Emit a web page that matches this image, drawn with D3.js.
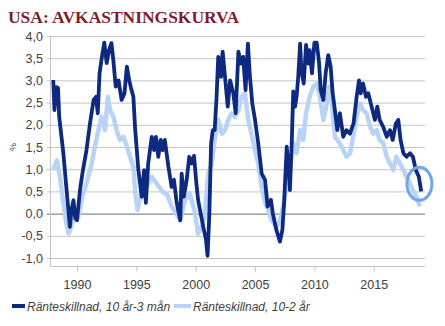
<!DOCTYPE html>
<html><head><meta charset="utf-8">
<script src="https://cdn.jsdelivr.net/npm/d3@7"></script>
<style>body{margin:0;background:#fff;}svg{display:block;}</style>
</head><body>
<svg id="c" width="445" height="326"></svg>
<script>
const title = "USA: AVKASTNINGSKURVA";
const seriesNames = ["Ränteskillnad, 10 år-3 mån", "Ränteskillnad, 10-2 år"];
const yTicks = [4.0,3.5,3.0,2.5,2.0,1.5,1.0,0.5,0.0,-0.5,-1.0];
const xTicks = [1990,1995,2000,2005,2010,2015];

const darkYears = [1988.0,1988.1,1988.25,1988.4,1988.5,1988.85,1989.1,1989.4,1989.55,1989.7,1989.85,1990.0,1990.25,1990.5,1990.8,1991.1,1991.4,1991.6,1991.75,1991.9,1992.1,1992.3,1992.5,1992.7,1992.9,1993.06,1993.26,1993.5,1993.76,1994.0,1994.2,1994.4,1994.55,1994.75,1994.9,1995.17,1995.45,1995.65,1995.8,1996.0,1996.3,1996.5,1996.65,1996.85,1997.05,1997.22,1997.4,1997.7,1997.97,1998.17,1998.4,1998.7,1998.82,1999.0,1999.24,1999.46,1999.66,1999.86,2000.03,2000.2,2000.42,2000.64,2000.87,2001.0,2001.15,2001.3,2001.44,2001.6,2001.76,2001.9,2002.13,2002.27,2002.47,2002.7,2002.9,2003.17,2003.37,2003.6,2003.8,2004.0,2004.2,2004.4,2004.57,2004.77,2005.0,2005.27,2005.56,2005.84,2006.06,2006.34,2006.5,2006.8,2007.1,2007.3,2007.45,2007.67,2007.86,2007.94,2008.1,2008.22,2008.37,2008.5,2008.64,2008.8,2008.9,2009.1,2009.3,2009.5,2009.6,2009.8,2010.0,2010.2,2010.4,2010.53,2010.76,2010.95,2011.17,2011.37,2011.54,2011.73,2011.93,2012.15,2012.43,2012.7,2013.0,2013.3,2013.56,2013.76,2013.9,2014.1,2014.35,2014.54,2014.82,2015.1,2015.3,2015.5,2015.8,2016.1,2016.37,2016.6,2016.87,2017.07,2017.26,2017.5,2017.77,2018.05,2018.3,2018.55,2018.8,2019.0];
const darkValues = [3.01,2.33,2.85,2.83,2.18,1.36,0.6,-0.3,0.1,0.3,-0.1,-0.15,0.53,0.98,1.43,2.04,2.56,2.63,2.26,3.16,3.53,3.85,3.39,3.68,3.84,3.46,2.86,3.0,2.56,2.71,3.31,3.0,2.83,2.63,1.9,0.98,0.38,0.98,0.24,1.13,1.73,1.43,1.73,1.28,1.66,1.43,1.66,1.06,0.6,0.76,0.24,-0.15,0.9,0.38,0.76,1.28,1.13,1.3,0.76,0.31,0.0,-0.3,-0.6,-0.95,0.0,1.58,1.88,1.88,2.63,3.53,3.08,3.65,3.08,2.41,3.0,2.71,2.26,3.65,3.38,3.53,2.78,3.83,3.08,2.48,2.11,1.58,0.9,0.76,0.16,0.31,0.0,-0.37,-0.63,-0.37,0.24,1.51,0.9,0.53,1.66,2.75,2.41,2.63,3.08,3.83,3.23,2.93,3.8,3.38,3.68,3.16,3.85,3.85,3.38,2.78,2.56,3.16,3.57,3.31,2.71,2.33,1.88,2.26,1.73,1.88,1.8,2.03,2.63,3.0,2.71,2.93,2.63,2.71,2.41,2.11,2.41,2.11,1.95,1.73,1.88,1.66,2.03,2.11,1.66,1.36,1.28,1.36,1.28,0.98,0.83,0.5];

const lightYears = [1988.0,1988.3,1988.56,1988.85,1989.1,1989.3,1989.7,1990.1,1990.45,1990.8,1991.24,1991.5,1991.8,1992.08,1992.36,1992.6,1992.8,1993.06,1993.34,1993.6,1993.9,1994.2,1994.47,1994.75,1994.95,1995.1,1995.4,1995.73,1996.3,1996.7,1997.1,1997.4,1997.56,1997.97,1998.7,1999.1,1999.5,1999.9,2000.2,2000.5,2000.76,2001.05,2001.35,2001.6,2001.9,2002.2,2002.47,2002.75,2003.0,2003.3,2003.6,2003.87,2004.15,2004.43,2004.7,2005.0,2005.27,2005.56,2005.84,2006.1,2006.4,2006.8,2007.1,2007.37,2007.67,2007.94,2008.2,2008.5,2008.8,2009.06,2009.3,2009.6,2009.9,2010.2,2010.47,2010.76,2011.0,2011.26,2011.45,2011.73,2012.15,2012.43,2012.7,2013.0,2013.27,2013.56,2013.84,2014.1,2014.4,2014.7,2014.96,2015.25,2015.5,2015.8,2016.1,2016.37,2016.65,2016.9,2017.2,2017.5,2017.77,2018.05,2018.3,2018.6,2018.9];
const lightValues = [0.98,1.2,0.83,0.24,-0.22,-0.45,-0.15,-0.08,0.38,0.68,1.13,1.51,1.88,2.18,1.88,2.63,2.33,2.18,1.88,1.66,1.73,1.51,1.28,1.06,0.38,0.08,0.45,0.53,0.83,0.68,0.53,0.45,0.45,0.16,-0.15,0.31,0.45,0.08,-0.45,-0.3,-0.08,0.9,1.13,1.66,2.11,1.8,1.88,2.11,2.26,2.18,2.33,2.63,2.71,2.11,1.8,1.43,1.13,0.6,0.24,0.08,-0.15,-0.3,-0.15,0.16,0.68,0.98,1.6,1.36,1.88,1.66,2.26,2.63,2.86,2.93,2.63,2.11,2.41,2.86,2.56,1.73,1.58,1.43,1.28,1.36,1.73,2.18,2.48,2.33,2.26,1.95,1.8,1.88,1.66,1.58,1.28,1.13,0.98,1.28,1.13,0.98,0.83,0.68,0.53,0.38,0.16];

const svg = d3.select("#c");
const font = "'Liberation Sans', Arial, sans-serif";
const x = d3.scaleLinear().domain([1987.725, 2019.32]).range([50, 425]);
const y = d3.scaleLinear().domain([-1, 4]).range([258, 36]);
const axisY = y(-1.18);

// title
svg.append("text").attr("x", 8).attr("y", 23)
  .attr("font-family", "'Liberation Serif', 'Times New Roman', serif")
  .attr("font-weight", "bold").attr("font-size", 16.5)
  .attr("fill", "#7d1c30").attr("textLength", 231).attr("lengthAdjust", "spacingAndGlyphs")
  .text(title);

// gridlines
svg.append("g").selectAll("line").data(yTicks).join("line")
  .attr("x1", 47).attr("x2", 425)
  .attr("y1", d => y(d) + 0.5).attr("y2", d => y(d) + 0.5)
  .attr("stroke", d => d === 0 ? "#6b6b6b" : "#c4c4c4").attr("stroke-width", 1);

// y axis line
svg.append("line").attr("x1", 50.5).attr("x2", 50.5).attr("y1", y(4)).attr("y2", axisY)
  .attr("stroke", "#c4c4c4");

// y labels
svg.append("g").selectAll("text").data(yTicks).join("text")
  .attr("x", 43).attr("y", d => y(d) + 4.5)
  .attr("text-anchor", "end").attr("font-family", font).attr("font-size", 12.5)
  .attr("fill", "#404040")
  .text(d => d3.format(".1f")(d).replace(".", ",").replace("−", "-"));

// % label
svg.append("text").attr("transform", `translate(16,${y(1.5)}) rotate(-90)`)
  .attr("text-anchor", "middle").attr("font-family", font).attr("font-size", 9)
  .attr("fill", "#404040").text("%");

// x axis
const xAxis = d3.axisBottom(x).tickValues(xTicks).tickSize(5).tickFormat(d3.format("d"));
const gx = svg.append("g").attr("transform", `translate(0,${axisY + 0.5})`).call(xAxis);
gx.select(".domain").attr("stroke", "#c4c4c4").attr("d", `M50,0H425`);
gx.selectAll(".tick line").attr("stroke", "#c4c4c4");
gx.selectAll(".tick text").attr("font-family", font).attr("font-size", 12.5)
  .attr("fill", "#404040").attr("dy", "1.2em");

// lines
const lightData = lightYears.map((t, i) => [t, lightValues[i]]);
const darkData = darkYears.map((t, i) => [t, darkValues[i]]);
const line = d3.line().x(d => x(d[0])).y(d => y(d[1]));
svg.append("path").datum(lightData).attr("d", line).attr("fill", "none")
  .attr("stroke", "#b9d3f6").attr("stroke-width", 4.5).attr("stroke-linejoin", "round");
svg.append("path").datum(darkData).attr("d", line).attr("fill", "none")
  .attr("stroke", "#0e2a80").attr("stroke-width", 3.8).attr("stroke-linejoin", "round");

// highlight ellipse
svg.append("ellipse").attr("cx", x(2018.85)).attr("cy", y(0.67)).attr("rx", 12.5).attr("ry", 16.5)
  .attr("fill", "none").attr("stroke", "#6fa6e8").attr("stroke-width", 3);

// legend
const lg = svg.append("g").attr("font-family", font).attr("font-size", 12)
  .attr("font-style", "italic").attr("fill", "#404040");
const legendItems = [
  {name: seriesNames[0], color: "#0e2a80", x0: 12, x1: 25, tx: 27},
  {name: seriesNames[1], color: "#b9d3f6", x0: 174, x1: 191, tx: 193}
];
legendItems.forEach(it => {
  lg.append("line").attr("x1", it.x0).attr("x2", it.x1).attr("y1", 306).attr("y2", 306)
    .attr("stroke", it.color).attr("stroke-width", 4);
  lg.append("text").attr("x", it.tx).attr("y", 310.5).text(it.name);
});
</script>
</body></html>
